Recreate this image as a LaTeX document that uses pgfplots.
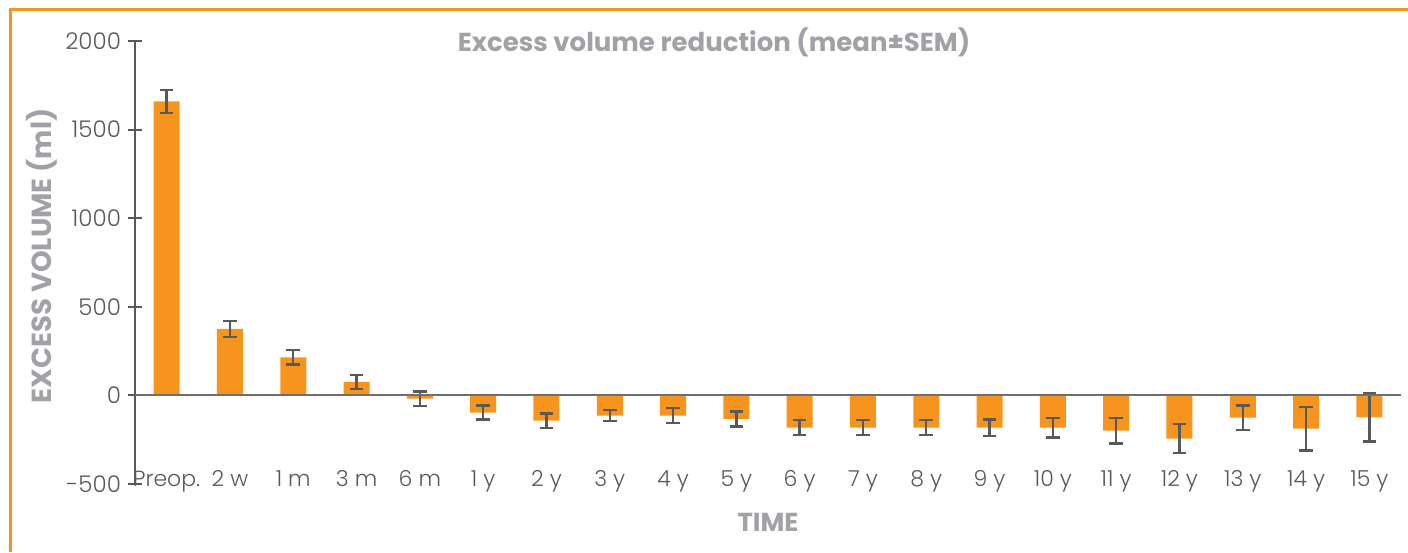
\documentclass[border=0pt]{standalone}
\usepackage{pgfplots}
\pgfplotsset{compat=1.18}
\usepackage{fontspec}
\setmainfont{Poppins}
\newfontfamily\lightfont{Poppins Light}
\definecolor{barorange}{HTML}{F7941E}
\definecolor{frameorange}{HTML}{F7941D}
\definecolor{dgray}{HTML}{58595B}
\definecolor{labelgray}{HTML}{A0A2A5}
\definecolor{zerogray}{HTML}{6D6E71}
\pgfplotstableread{
x y e
0 1660 65
1 375 45
2 215 40
3 75 40
4 -18 41
5 -97 40
6 -143 40
7 -114 32
8 -114 42
9 -133 42
10 -182 42
11 -182 42
12 -182 42
13 -182 47
14 -182 55
15 -199 72
16 -244 81
17 -126 70
18 -188 124
19 -124 137
}\datatable
\begin{document}
\begin{tikzpicture}[x=1pt,y=1pt]
\useasboundingbox (0,0) rectangle (704,-276);
\draw[frameorange, line width=1.5pt] (5,-276) -- (5,-4.5) -- (704,-4.5);
\begin{axis}[
  at={(67.5pt,-242pt)}, anchor=south west,
  scale only axis, width=633pt, height=221.5pt,
  xmin=-0.5, xmax=19.5, ymin=-500, ymax=2000,
  axis lines*=left,
  axis line style={-},
  x axis line style={draw=none},
  y axis line style={dgray, line width=1pt},
  ybar, bar width=13pt,
  xtick={0,...,19},
  xticklabels={Preop.,2 w,1 m,3 m,6 m,1 y,2 y,3 y,4 y,5 y,6 y,7 y,8 y,9 y,10 y,11 y,12 y,13 y,14 y,15 y},
  xtick style={draw=none},
  xticklabel style={anchor=base, yshift=2.5pt, dgray, font=\lightfont\fontsize{11}{13}\selectfont},
  ytick={-500,0,500,1000,1500,2000},
  yticklabels={-500,0,500,1000,1500,2000},
  yticklabel style={dgray, font=\lightfont\fontsize{11.5}{13}\selectfont},
  ytick style={dgray, line width=1pt},
  tick align=center, major tick length=7pt,
  clip=false,
]
\addplot[fill=barorange, draw=none,
  error bars/.cd, y dir=both, y explicit,
  error bar style={dgray, line width=1.2pt},
  error mark options={rotate=90, mark size=3.4pt, line width=1.2pt, dgray}]
  table[x=x, y=y, y error=e] {\datatable};
\draw[zerogray, line width=1pt] (axis cs:-0.5,0) -- (axis cs:19.5,0);
\end{axis}
\node[labelgray, font=\bfseries\fontsize{13}{15}\selectfont] at (357,-21) {Excess volume reduction (mean±SEM)};
\node[labelgray, rotate=90, font=\bfseries\fontsize{13.8}{15}\selectfont] at (21,-128) {EXCESS VOLUME (ml)};
\node[labelgray, font=\bfseries\fontsize{13}{15}\selectfont] at (384,-261) {TIME};
\end{tikzpicture}
\end{document}
